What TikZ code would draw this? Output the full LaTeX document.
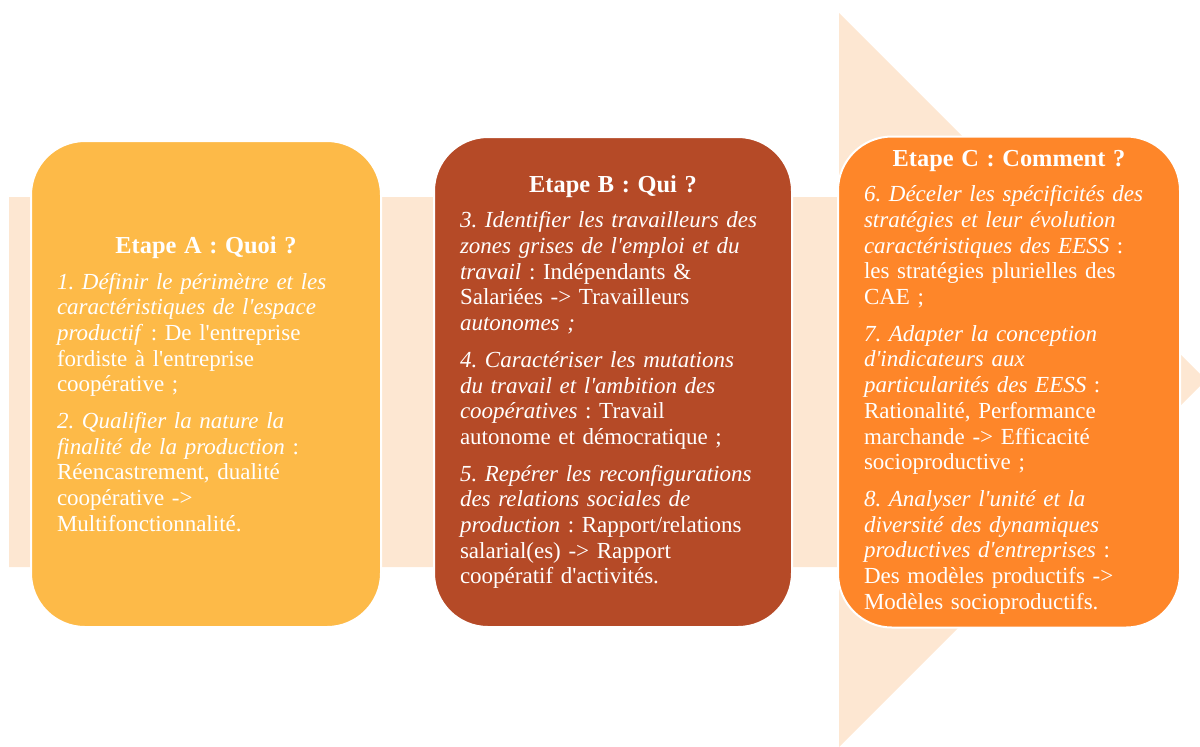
\documentclass[tikz,border=0pt]{standalone}
\usepackage{fontspec}
\setmainfont{Liberation Serif}
\frenchspacing
\newcommand{\sq}{\textquotesingle}
\definecolor{peach}{HTML}{FDE7D2}
\definecolor{amber}{HTML}{FDBA48}
\definecolor{rust}{HTML}{B54A27}
\definecolor{carrot}{HTML}{FE8629}
\begin{document}
\begin{tikzpicture}[x=0.5pt,y=-0.5pt,
	etapebox/.style={draw=white,line width=1pt,rounded corners=27pt,text=white,
		inner xsep=13pt,inner ysep=0pt,align=left,anchor=center,
		font=\fontsize{11.5}{12.85}\selectfont\frenchspacing}]
		\useasboundingbox (0,0) rectangle (1200,746);
		% fleche de fond
		\fill[peach] (9,197) -- (839,197) -- (839,13) -- (1206,380) -- (839,747) -- (839,567) -- (9,567) -- cycle;
		\node[etapebox,fill=amber,text width=149pt,minimum height=243pt] (etapeA) at (206,384) {%
			{\centering\bfseries\fontsize{12.2}{13}\selectfont Etape A : Quoi ?\par}\vspace{5pt}
			\textit{1. Définir le périmètre et les}\\
			\textit{caractéristiques de l\sq espace}\\
			\textit{productif} : De l\sq entreprise\\
			fordiste à l\sq entreprise\\
			coopérative ;\par\vspace{5.5pt}
			\textit{2. Qualifier la nature la}\\
			\textit{finalité de la production} :\\
			Réencastrement, dualité\\
			coopérative ->\\
			Multifonctionnalité.};
		\node[etapebox,fill=rust,text width=153pt,minimum height=245pt] (etapeB) at (613,382) {%
			{\centering\bfseries\fontsize{12.2}{13}\selectfont Etape B : Qui ?\par}\vspace{5pt}
			\textit{3. Identifier les travailleurs des}\\
			\textit{zones grises de l\sq emploi et du}\\
			\textit{travail} : Indépendants \&\\
			Salariées -> Travailleurs\\
			\textit{autonomes ;}\par\vspace{5.5pt}
			\textit{4. Caractériser les mutations}\\
			\textit{du travail et l\sq ambition des}\\
			\textit{coopératives} : Travail\\
			autonome et démocratique ;\par\vspace{5.5pt}
			\textit{5. Repérer les reconfigurations}\\
			\textit{des relations sociales de}\\
			\textit{production} : Rapport/relations\\
			salarial(es) -> Rapport\\
			coopératif d\sq activités.};
		\node[etapebox,fill=carrot,text width=145pt,minimum height=245.5pt] (etapeC) at (1009,382) {%
			{\centering\bfseries\fontsize{12.2}{13}\selectfont Etape C : Comment ?\par}\vspace{5pt}
			\textit{6. Déceler les spécificités des}\\
			\textit{stratégies et leur évolution}\\
			\textit{caractéristiques des EESS} :\\
			les stratégies plurielles des\\
			CAE ;\par\vspace{5.5pt}
			\textit{7. Adapter la conception}\\
			\textit{d\sq indicateurs aux}\\
			\textit{particularités des EESS} :\\
			Rationalité, Performance\\
			marchande -> Efficacité\\
			socioproductive ;\par\vspace{5.5pt}
			\textit{8. Analyser l\sq unité et la}\\
			\textit{diversité des dynamiques}\\
			\textit{productives d\sq entreprises} :\\
			Des modèles productifs ->\\
			Modèles socioproductifs.};
\end{tikzpicture}
\end{document}
